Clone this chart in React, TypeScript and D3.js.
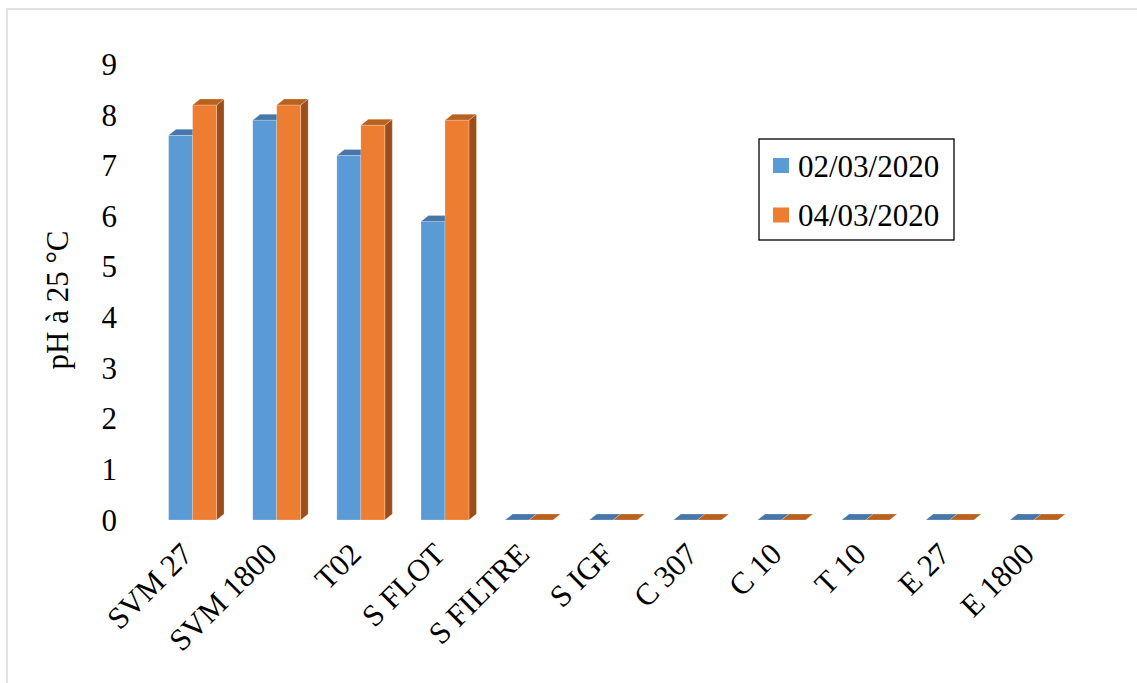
import React from "react";
import * as d3 from "d3";

const categories = ["SVM 27", "SVM 1800", "T02", "S FLOT", "S FILTRE", "S IGF", "C 307", "C 10", "T 10", "E 27", "E 1800"];
const seriesNames = ["02/03/2020", "04/03/2020"];
const series1 = [7.6, 7.9, 7.2, 5.9, 0, 0, 0, 0, 0, 0, 0];
const series2 = [8.2, 8.2, 7.8, 7.9, 0, 0, 0, 0, 0, 0, 0];
const yTicks = [0, 1, 2, 3, 4, 5, 6, 7, 8, 9];

const W = 1137;
const H = 683;
const FONT = "'Liberation Serif', 'Times New Roman', serif";
const colors = [
  { front: "#5B9BD5", top: "#4677A8", side: "#3F6E9B" },
  { front: "#ED7D31", top: "#B9611F", side: "#9B4E1C" },
];
const DX = 7.5;
const DY = -6;

export default function App() {
  const x0 = d3
    .scaleBand<string>()
    .domain(categories)
    .range([150.5, 1076])
    .paddingInner(0.43)
    .paddingOuter(0.215);
  const x1 = d3.scaleBand<string>().domain(seriesNames).range([0, x0.bandwidth()]);
  const y = d3.scaleLinear().domain([0, 9]).range([520, 64.5]);
  const data = [series1, series2];

  const bars: React.ReactNode[] = [];
  categories.forEach((c, i) => {
    seriesNames.forEach((s, j) => {
      const v = data[j][i];
      const xl = (x0(c) as number) + (x1(s) as number);
      const xr = xl + x1.bandwidth();
      const yt = y(v);
      const yb = y(0);
      const col = colors[j];
      const top = `M${xl},${yt}L${xl + DX},${yt + DY}L${xr + DX},${yt + DY}L${xr},${yt}Z`;
      const side = `M${xr},${yt}L${xr + DX},${yt + DY}L${xr + DX},${yb + DY}L${xr},${yb}Z`;
      bars.push(
        <g key={`${i}-${j}`}>
          <path d={side} fill={col.side} stroke="#ffffff" strokeOpacity={0.4} strokeWidth={0.6} />
          {v > 0 && (
            <rect x={xl} y={yt} width={xr - xl} height={yb - yt} fill={col.front} stroke="#ffffff" strokeOpacity={0.4} strokeWidth={0.6} />
          )}
          <path d={top} fill={col.top} stroke="#ffffff" strokeOpacity={0.4} strokeWidth={0.6} />
        </g>
      );
    });
  });

  return (
    <svg width={W} height={H} style={{ position: "absolute", left: 0, top: 0, background: "#fff" }} fontFamily={FONT}>
      <rect x={7} y={9} width={1140} height={700} fill="#fff" stroke="#d9d9d9" strokeWidth={1.5} />
      {yTicks.map((t) => (
        <text key={t} x={117} y={y(t) + 10.5} textAnchor="end" fontSize={31} fill="#000">
          {t}
        </text>
      ))}
      <text transform={`translate(68,300) rotate(-90)`} textAnchor="middle" fontSize={31} fill="#000">
        pH à 25 °C
      </text>
      {bars}
      {categories.map((c) => {
        const cx = (x0(c) as number) + x0.bandwidth() / 2;
        return (
          <text key={c} transform={`translate(${cx + 2},${556}) rotate(-45)`} textAnchor="end" fontSize={31} fill="#000">
            {c}
          </text>
        );
      })}
      <g>
        <rect x={759} y={139} width={195} height={101} fill="#fff" stroke="#000" strokeWidth={1.3} />
        {seriesNames.map((s, j) => (
          <g key={s}>
            <rect x={773} y={158 + j * 49.5} width={16} height={15} fill={colors[j].front} />
            <text x={798} y={176.5 + j * 49} fontSize={31} fill="#000">
              {s}
            </text>
          </g>
        ))}
      </g>
    </svg>
  );
}
